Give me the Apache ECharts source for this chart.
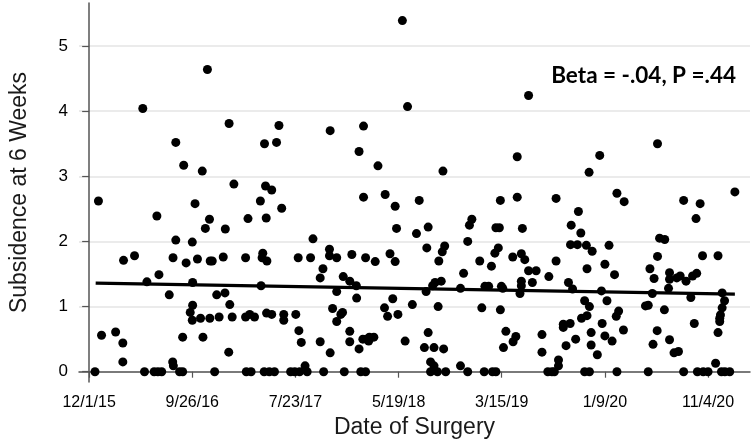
<!DOCTYPE html>
<html>
<head>
<meta charset="utf-8">
<script src="https://cdn.jsdelivr.net/npm/echarts@6/dist/echarts.min.js"></script>
<style>html,body{margin:0;padding:0;background:#fff}#c{width:752px;height:444px}</style>
</head>
<body>
<div id="c"></div>
<script>
// x values: days since 12/1/15
const xTickValues = [0, 300, 600, 900, 1200, 1500, 1800];
const xTickLabels = ['12/1/15', '9/26/16', '7/23/17', '5/19/18', '3/15/19', '1/9/20', '11/4/20'];
const yTickValues = [0, 1, 2, 3, 4, 5];

const surgeryDay = [
17,27,36,77,98,98,100,132,156,161,168,189,197,200,211,203,233,243,245,244,252,252,263,272,272,275,282,294,300,301,301,300,308,315,324,329,331,338,344,350,351,352,358,365,371,378,390,395,396,406,407,409,416,421,455,455,462,467,481,498,500,503,505,510,513,515,516,517,
457,471,509,524,539,586,598,612,628,634,682,
531,531,545,552,560,566,566,601,608,610,617,644,651,672,672,680,701,699,699,708,701,720,720,720,732,737,739,742,758,758,758,764,777,778,785,785,790,804,798,798,804,796,806,815,828,813,832,840,861,859,868,875,883,890,890,894,898,911,919,926,940,952,960,975,982,986,986,980,993,993,999,1003,1003,1006,1013,1015,1017,1024,1027,1029,1031,1034,1037,1080,1080,1089,1101,1101,1106,1113,1136,1142,1149,1151,1162,1170,1173,1183,1180,1183,1190,1193,1196,1196,1199,
1203,1205,1212,1233,1241,1232,1245,1245,1253,1257,1257,1257,1260,1267,1278,1278,1289,1300,1317,1317,1337,1334,1346,1353,1358,1358,1365,1365,1379,1379,1387,1394,1399,1402,1400,1406,1415,1420,1423,1430,1432,1441,1441,1455,1446,1448,1448,1454,1455,1460,1460,1463,1478,1492,1485,1490,1500,1500,1506,1512,1521,1528,1533,1535,1535,1540,1554,1556,1626,1618,1626,1631,1638,1640,1643,1652,1653,1653,1659,1674,1673,1688,1685,1688,1688,1701,1714,1709,1719,1729,1729,1736,1750,1755,1760,1765,1767,1769,1777,1784,1786,1800,1822,1829,1829,1834,1834,1836,1841,1841,1848,1839,1849,1863,1878
];
const subsidence = [
0,2.62,0.56,0.61,0.44,0.15,1.71,1.78,4.04,0,1.38,0,2.39,0,0,1.49,1.18,0.15,0.09,1.75,2.02,3.52,0,0,0.53,3.17,1.67,0.91,0.79,1.02,1.37,1.99,2.58,1.73,0.82,3.08,0.53,2.2,4.64,2.34,0.82,1.70,1.70,0,1.18,0.84,1.76,1.21,2.19,0.30,3.81,1.03,0.84,2.88,1.75,0.84,2.35,0.88,0.84,2.62,1.32,1.75,1.82,3.50,2.85,2.36,0.90,1.70,
0,0,0,0,0,0,0,0,0.09,0,0,
0.88,2.79,3.52,3.78,2.51,0.88,0.79,0.88,1.75,0.63,0.45,1.75,2.04,0.46,1.44,1.58,3.70,1.88,1.78,0.97,0.29,1.75,1.23,0.77,0.88,0.91,1.46,0,1.39,0.62,0.46,1.80,1.32,1.13,3.38,0.35,0,0,3.77,2.68,1.75,0.50,0.50,0.53,0.53,0.47,1.69,3.16,2.72,0.98,0.85,1.81,1.12,2.54,1.69,2.20,0.88,5.39,0.47,4.07,1.03,2.12,2.63,0.37,1.90,2.22,0.60,1.23,0,0.15,1.32,0.37,0.09,1.37,0,1.00,1.70,1.39,1.84,3.08,0.35,1.93,0,1.28,0.09,1.51,0,2.0,2.25,2.34,1.70,0.98,0,1.31,1.31,1.62,0,0,1.82,2.21,1.90,2.21,2.63,0.95,1.31,
1.28,0.37,0.62,0.46,0.54,1.76,3.30,2.68,1.20,1.39,1.32,1.81,2.20,1.72,4.24,1.55,1.37,1.55,0.57,0.30,1.46,0,0,0,2.66,1.70,0.18,0.09,0.68,0.73,0.40,1.37,0.74,2.25,1.95,1.27,0.50,1.95,2.46,2.13,0.82,1.09,0,0,1.94,0.86,1.58,3.06,1.00,0.60,0.41,1.85,0.26,0.74,3.32,1.24,1.65,0.55,1.09,1.94,0.47,1.49,0.85,2.74,0,0.93,0.64,2.61,0,1.01,1.02,1.58,1.20,0.42,1.43,0.63,3.50,1.77,2.05,2.03,0.95,0.49,1.28,1.42,1.52,0.29,0.31,1.44,1.47,2.63,0,1.39,1.14,1.47,0.74,2.35,1.51,0,2.58,1.78,0,0,0.13,1.78,0.60,0.77,0.82,0.87,0.98,1.21,1.09,0,0,0,2.76
];

// regression line endpoints
const fitDay = [19, 1878];
const fitValue = [1.36, 1.19];

const annotation = 'Beta = -.04, P =.44';

const points = surgeryDay.map((d, i) => [d, subsidence[i]]);
const fitLine = fitDay.map((d, i) => [d, fitValue[i]]);

const font = 'Liberation Sans';
const chart = echarts.init(document.getElementById('c'), null, {renderer: 'canvas'});
chart.setOption({
  animation: false,
  backgroundColor: '#fff',
  grid: {left: 69, right: 2, top: 3, bottom: 61},
  xAxis: {
    type: 'value', min: -29.5, max: 1922,
    name: 'Date of Surgery', nameLocation: 'middle', nameGap: 34,
    nameTextStyle: {fontSize: 23, color: '#1a1a1a', fontFamily: font},
    axisLine: {show: true, lineStyle: {color: '#555', width: 1.5}},
    axisTick: {show: true, customValues: xTickValues, length: 6, lineStyle: {color: '#555', width: 1.2}},
    axisLabel: {customValues: xTickValues, fontSize: 16, color: '#000', fontFamily: font, margin: 13,
      formatter: v => xTickLabels[xTickValues.indexOf(v)] || ''},
    splitLine: {show: false}
  },
  yAxis: {
    type: 'value', min: -0.158, max: 5.66,
    name: 'Subsidence at 6 Weeks', nameLocation: 'middle', nameGap: 48,
    nameTextStyle: {fontSize: 23, color: '#1a1a1a', fontFamily: font},
    axisLine: {show: true, lineStyle: {color: '#555', width: 1.5}},
    axisTick: {show: true, customValues: yTickValues, length: 7, lineStyle: {color: '#555', width: 1.2}},
    axisLabel: {customValues: yTickValues, fontSize: 17, color: '#000', fontFamily: font, margin: 11},
    splitLine: {show: true, lineStyle: {color: '#e4e4e4', width: 1.5}}
  },
  graphic: [{
    type: 'text', right: 16, top: 64,
    style: {text: annotation, font: 'bold 22.5px Lato', fill: '#000'}
  }],
  series: [
    {type: 'scatter', data: points, symbolSize: 9, itemStyle: {color: '#000', opacity: 1}},
    {type: 'line', data: fitLine, symbol: 'none', lineStyle: {color: '#000', width: 3.2}, z: 3}
  ]
});
</script>
</body>
</html>
